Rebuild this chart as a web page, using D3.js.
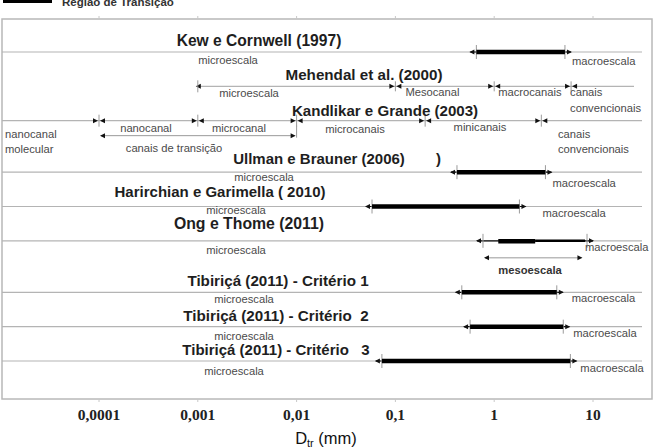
<!DOCTYPE html>
<html><head><meta charset="utf-8">
<script src="https://cdn.jsdelivr.net/npm/d3@7"></script>
<style>body{margin:0;background:#fff}svg{display:block}text{white-space:pre}</style>
</head><body>
<svg id="c" width="659" height="448"></svg>
<script>
// ---------- data ----------
const studies = ["Kew e Cornwell (1997)", "Mehendal et al. (2000)", "Kandlikar e Grande (2003)",
  "Ullman e Brauner (2006)", "Harirchian e Garimella ( 2010)", "Ong e Thome (2011)",
  "Tibiriçá (2011) - Critério 1", "Tibiriçá (2011) - Critério  2", "Tibiriçá (2011) - Critério   3"];
const decades = [0.0001, 0.001, 0.01, 0.1, 1, 10];
const tickLabels = ["0,0001", "0,001", "0,01", "0,1", "1", "10"];
// transition region (mm) per study (null = none)
const transStart = [0.66, null, null, 0.42, 0.058, 0.77, 0.47, 0.57, 0.073];
const transEnd   = [5.2,  null, null, 3.3,  1.8,   8.7,  4.3,  5.0,  5.9];
// Ong e Thome inner segments
const ongStrong = [1.1, 2.6];
const ongWeak = [2.6, 8.3];
const ongMeso = [0.77, 8.0];
// Mehendal et al.
const mehStart = 0.001;
const mehBounds = [0.1, 1, 6];
// Kandlikar e Grande
const kandBounds = [0.0001, 0.001, 0.01, 0.2, 3];
const kandTransition = [0.0001, 0.01];

// ---------- layout ----------
const frame = {x0: 2, y0: 19, x1: 652, y1: 399};
const rowSlot = [0, 1, 2, 3.5, 4.5, 5.5, 7, 8, 9];
const svg = d3.select("#c");
const x = d3.scaleLog().domain([0.0001, 10]).range([99, 593]);
const y = d3.scaleLinear().domain([0, 9]).range([52, 361]);
const rowY = i => y(rowSlot[i]);

const sans = "'Liberation Sans', Arial, sans-serif";
const lineCol = "#b4b4b4";

// frame
svg.append("rect").attr("x", frame.x0).attr("y", frame.y0)
  .attr("width", frame.x1 - frame.x0).attr("height", frame.y1 - frame.y0)
  .attr("fill", "none").attr("stroke", "#b8b8b8").attr("stroke-width", 1.5);
decades.forEach(d => {
  svg.append("line").attr("x1", x(d)).attr("x2", x(d)).attr("y1", frame.y0 - 3).attr("y2", frame.y0)
    .attr("stroke", "#c8c8c8");
  svg.append("line").attr("x1", x(d)).attr("x2", x(d)).attr("y1", frame.y1).attr("y2", frame.y1 + 3)
    .attr("stroke", "#c8c8c8");
});

// legend
svg.append("rect").attr("x", 3).attr("y", -6).attr("width", 49).attr("height", 9).attr("fill", "#000");
svg.append("text").attr("x", 62).attr("y", 6).attr("font-family", sans).attr("font-weight", "bold")
  .attr("font-size", 11.5).attr("fill", "#333").text("Região de Transição");

// helpers
function arrow(px, py, dir) {
  svg.append("path")
    .attr("d", `M${px},${py}L${px - dir * 5},${py - 2.5}L${px - dir * 5},${py + 2.5}Z`)
    .attr("fill", "#111");
}
function vtick(px, py, h) {
  svg.append("line").attr("x1", px).attr("x2", px).attr("y1", py - h).attr("y2", py + h)
    .attr("stroke", "#9a9a9a").attr("stroke-width", 1);
}
function hline(xa, xb, py, col, w) {
  svg.append("line").attr("x1", xa).attr("x2", xb).attr("y1", py).attr("y2", py)
    .attr("stroke", col || lineCol).attr("stroke-width", w || 1.2);
}
function label(txt, px, py, opts) {
  opts = opts || {};
  const t = svg.append("text").attr("x", px).attr("y", py)
    .attr("font-family", sans).attr("font-size", opts.size || 11.2)
    .attr("font-weight", opts.bold ? "bold" : "normal")
    .attr("fill", opts.col || "#4a4a4a")
    .attr("text-anchor", opts.anchor || "start");
  const lines = txt.split("\n");
  lines.forEach((l, k) => t.append("tspan").attr("x", px).attr("dy", k ? (opts.lh || 15) : 0).text(l));
  return t;
}

// row lines
[0, 2, 3, 4, 5, 6, 7, 8].forEach(i => hline(frame.x0, frame.x1 - 10, rowY(i)));
hline(x(mehStart), frame.x1 - 18, rowY(1));

// transition bars
studies.forEach((s, i) => {
  if (transStart[i] == null) return;
  const yy = rowY(i), xa = x(transStart[i]), xb = x(transEnd[i]);
  hline(xa - 6, xb + 6, yy, "#111", 1.2);
  arrow(xa - 7, yy, -1); arrow(xb + 7, yy, 1);
  vtick(xa, yy, 7); vtick(xb, yy, 7);
  if (i === 5) {
    hline(x(ongStrong[0]), x(ongStrong[1]), yy + 0.5, "#000", 4.5);
    hline(x(ongWeak[0]), x(ongWeak[1]), yy, "#000", 2.5);
  } else {
    hline(xa, xb, yy, "#000", 4.5);
  }
});

// Mehendal boundaries
{
  const yy = rowY(1);
  arrow(x(mehStart) - 2, yy, -1);
  vtick(x(mehStart), yy, 6);
  mehBounds.forEach(b => { arrow(x(b) - 1, yy, 1); arrow(x(b) + 1, yy, -1); vtick(x(b), yy, 5); });
}
// Kandlikar boundaries
{
  const yy = rowY(2);
  kandBounds.forEach(b => { arrow(x(b) - 1, yy, 1); arrow(x(b) + 1, yy, -1); vtick(x(b), yy, 6); });
  const y2 = yy + 15;
  hline(x(kandTransition[0]) + 2, x(kandTransition[1]) - 2, y2, "#999", 1);
  arrow(x(kandTransition[0]) + 1, y2, -1);
  arrow(x(kandTransition[1]) - 1, y2, 1);
  vtick(x(kandTransition[1]), y2 - 4, 6);
}
// Ong mesoescala arrow
{
  const yy = rowY(5) + 17;
  hline(x(ongMeso[0]) + 2, x(ongMeso[1]) - 2, yy, "#999", 1);
  arrow(x(ongMeso[0]) + 1, yy, -1);
  arrow(x(ongMeso[1]) - 1, yy, 1);
}

// titles
const titleX = [259, 364, 385, 319, 220, 249, 278, 276, 276];
const titleDy = [-6, -6, -5, -8, -10, -12, -6, -6, -6];
const titleSize = [15.6, 15.2, 15.1, 15.0, 15.0, 15.8, 15.2, 15.2, 15.0];
studies.forEach((s, i) => {
  svg.append("text").attr("x", titleX[i]).attr("y", rowY(i) + titleDy[i])
    .attr("text-anchor", "middle").attr("font-family", sans)
    .attr("font-size", titleSize[i]).attr("font-weight", "bold")
    .attr("fill", "#1e1e1e").text(s);
});
svg.append("text").attr("x", 436).attr("y", rowY(3) - 8).attr("font-family", sans)
  .attr("font-size", 15).attr("font-weight", "bold").attr("fill", "#1e1e1e").text(")");

// microescala / macroescala labels
const microX = [228, 249, null, 264, 236, 236, 244, 244, 234];
const microDy = [12, 11, null, 9, 7, 13, 11, 13, 14];
microX.forEach((mx, i) => { if (mx != null) label("microescala", mx, rowY(i) + microDy[i], {anchor: "middle"}); });
const macroDy = [13, null, null, 15, 10, 10, 10, 10, 11];
const macroDx = [7, null, null, 7, 23, -2, 15, 10, 10];
macroDy.forEach((md, i) => { if (md != null) label("macroescala", x(transEnd[i]) + macroDx[i], rowY(i) + md); });

// Mehendal labels
label("Mesocanal", x(mehBounds[0]) + 10, rowY(1) + 10);
label("macrocanais", x(mehBounds[1]) + 4, rowY(1) + 10);
label("canais\nconvencionais", x(mehBounds[2]) - 1, rowY(1) + 10, {lh: 16});
// Kandlikar labels
label("nanocanal\nmolecular", 5, rowY(2) + 17, {lh: 15});
label("nanocanal", 146, rowY(2) + 11, {anchor: "middle"});
label("microcanal", 239, rowY(2) + 11, {anchor: "middle"});
label("microcanais", 355, rowY(2) + 12, {anchor: "middle"});
label("minicanais", 480, rowY(2) + 10, {anchor: "middle"});
label("canais\nconvencionais", 558, rowY(2) + 17, {lh: 15});
label("canais de transição", 174, rowY(2) + 31, {anchor: "middle"});
// Ong mesoescala
label("mesoescala", 530, rowY(5) + 33, {anchor: "middle", bold: true, col: "#333"});

// axis labels
decades.forEach((d, k) => {
  svg.append("text").attr("x", x(d)).attr("y", 420).attr("text-anchor", "middle")
    .attr("font-family", "'Liberation Serif', 'DejaVu Serif', serif").attr("font-weight", "bold")
    .attr("font-size", 15.5).attr("fill", "#222").text(tickLabels[k]);
});
const at = svg.append("text").attr("x", 326).attr("y", 444).attr("text-anchor", "middle")
  .attr("font-family", sans).attr("font-size", 16.5).attr("fill", "#111");
at.append("tspan").text("D");
at.append("tspan").attr("font-size", 11).attr("dy", 3).text("tr");
at.append("tspan").attr("dy", -3).text(" (mm)");
</script>
</body></html>
